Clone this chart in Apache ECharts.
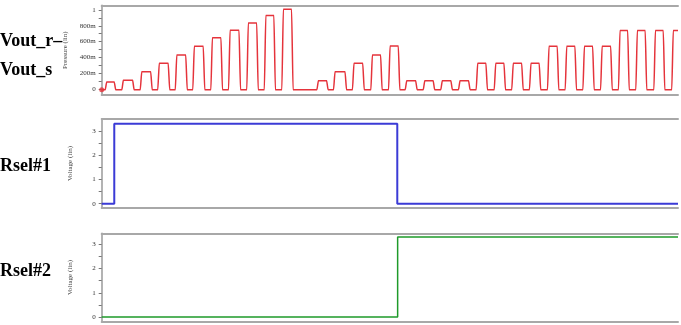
<!DOCTYPE html>
<html>
<head>
<meta charset="utf-8">
<script src="https://cdn.jsdelivr.net/npm/echarts@6/dist/echarts.min.js"></script>
<style>html,body{margin:0;padding:0;background:#fff}#c{width:681px;height:325px}</style>
</head>
<body>
<div id="c"></div>
<script>
// ---- data (time in pulse periods) ----
const timeMax = 32.56;
const pulseOn  = [0.28,1.22,2.26,3.25,4.24,5.23,6.25,7.25,8.28,9.27,10.26,12.24,13.18,14.25,15.29,16.29,17.23,18.25,19.24,20.24,21.24,22.26,23.25,24.25,25.27,26.27,27.27,28.27,29.28,30.26,31.28,32.29];
const pulseOff = [0.71,1.75,2.77,3.76,4.75,5.74,6.74,7.76,8.76,9.73,10.73,12.71,13.75,14.75,15.76,16.76,17.74,18.73,19.73,20.73,21.71,22.73,23.73,24.72,25.74,26.74,27.74,28.76,29.72,30.71,31.73,32.56];
const pulseLevel = [0.09,0.11,0.22,0.325,0.43,0.54,0.65,0.745,0.835,0.93,1.01,0.105,0.22,0.325,0.43,0.545,0.105,0.105,0.105,0.105,0.325,0.325,0.325,0.325,0.54,0.54,0.54,0.54,0.74,0.74,0.74,0.74];
const baseLevel = -0.01;
const rsel1 = [[0,0],[0.71,0],[0.71,3.3],[16.7,3.3],[16.7,0],[32.56,0]];
const rsel2 = [[0,0],[16.72,0],[16.72,3.3],[32.56,3.3]];
const pressTicks = [0,0.2,0.4,0.6,0.8,1];
const pressTickNames = ['0','200m','400m','600m','800m','1'];
const voltTicks = [0,1,2,3];
const panelNames = ['Vout_r\u2013','Vout_s','Rsel#1','Rsel#2'];

// ---- build trace ----
const edge = 0.08;
const vout = [[0, baseLevel]];
pulseOn.forEach((on, i) => {
  const off = pulseOff[i], h = pulseLevel[i];
  vout.push([on - edge, baseLevel], [on, h]);
  if (off < timeMax) { vout.push([off, h], [off + edge, baseLevel]); }
  else { vout.push([timeMax, h]); }
});

const chart = echarts.init(document.getElementById('c'), null, {renderer: 'canvas'});
const L = 101.7, R = 3;
const grids = [
  {left: L, right: R, top: 5.3, height: 89.7},
  {left: L, right: R, top: 119, height: 89},
  {left: L, right: R, top: 233.3, height: 88.4}
];
const yr = [[-0.076, 1.06], [-0.177, 3.495], [-0.194, 3.454]];
const labFont = {fontFamily: 'Liberation Serif', fontSize: 7, color: '#333'};
function xAx(g, pos) {
  return {type: 'value', gridIndex: g, position: pos, min: 0, max: timeMax,
    axisLine: {show: true, onZero: false, lineStyle: {color: '#a8a8a8', width: 2}},
    axisTick: {show: false}, axisLabel: {show: false}, splitLine: {show: false}};
}
const xAxes = [], yAxes = [];
for (let g = 0; g < 3; g++) { xAxes.push(xAx(g, 'bottom')); xAxes.push(xAx(g, 'top')); }
function yAx(g, ticks, names, minorStep, name) {
  const minors = [];
  for (let v = 0; v <= yr[g][1] + 1e-9; v += minorStep) minors.push(+v.toFixed(3));
  return [{
    type: 'value', gridIndex: g, min: yr[g][0], max: yr[g][1],
    name: name, nameLocation: 'middle', nameGap: 28, nameRotate: 90,
    nameTextStyle: {fontFamily: 'Liberation Serif', fontSize: 7, color: '#444'},
    axisLine: {show: true, onZero: false, lineStyle: {color: '#9a9a9a', width: 1.5}},
    axisTick: {show: true, customValues: minors, length: 3, lineStyle: {color: '#777', width: 1}},
    axisLabel: {show: true, customValues: ticks, margin: 6,
      formatter: v => { const i = ticks.findIndex(t => Math.abs(t - v) < 1e-6); return i >= 0 ? names[i] : ''; },
      ...labFont},
    splitLine: {show: false}
  }];
}
yAxes.push(...yAx(0, pressTicks, pressTickNames, 0.1, 'Pressure (lin)'));
yAxes.push(...yAx(1, voltTicks, voltTicks.map(String), 0.5, 'Voltage (lin)'));
yAxes.push(...yAx(2, voltTicks, voltTicks.map(String), 0.5, 'Voltage (lin)'));

const txt = (t, x, y) => ({type: 'text', left: x, top: y, style: {text: t, font: 'bold 18px "Liberation Serif"', fill: '#000'}});

chart.setOption({
  animation: false,
  backgroundColor: '#fff',
  grid: grids,
  xAxis: xAxes,
  yAxis: yAxes,
  graphic: [txt(panelNames[0], 0, 32), txt(panelNames[1], 0, 61), txt(panelNames[2], 0, 157), txt(panelNames[3], 0, 262)],
  series: [
    {type: 'line', xAxisIndex: 0, yAxisIndex: 0, data: vout, showSymbol: false, smooth: 0.12, smoothMonotone: 'x',
      lineStyle: {color: '#e5333b', width: 1.5}, clip: true},
    {type: 'scatter', xAxisIndex: 0, yAxisIndex: 0, data: [vout[0]], symbolSize: 5, itemStyle: {color: '#e5333b'}, clip: false},
    {type: 'line', xAxisIndex: 2, yAxisIndex: 1, data: rsel1, showSymbol: false, lineStyle: {color: '#3b3bd6', width: 2}},
    {type: 'line', xAxisIndex: 4, yAxisIndex: 2, data: rsel2, showSymbol: false, lineStyle: {color: '#1e9a2a', width: 1.5}}
  ]
});
</script>
</body>
</html>
